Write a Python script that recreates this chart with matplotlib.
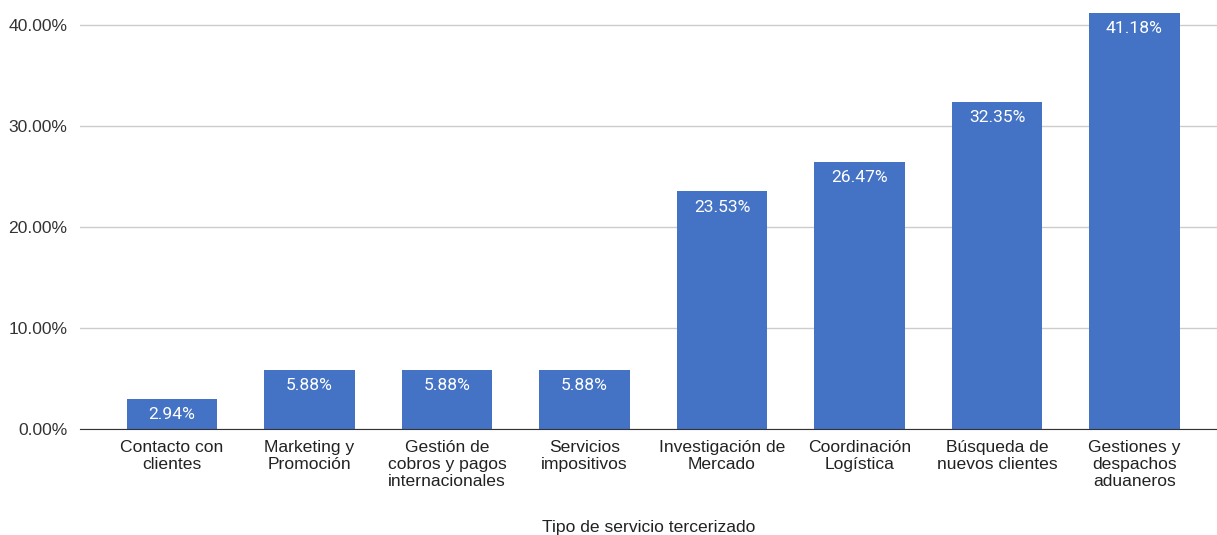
import matplotlib.pyplot as plt
from matplotlib.ticker import FuncFormatter

# share of companies per outsourced service type
categories = [
    "Contacto con\nclientes",
    "Marketing y\nPromoción",
    "Gestión de\ncobros y pagos\ninternacionales",
    "Servicios\nimpositivos",
    "Investigación de\nMercado",
    "Coordinación\nLogística",
    "Búsqueda de\nnuevos clientes",
    "Gestiones y\ndespachos\naduaneros",
]
values = [2.94, 5.88, 5.88, 5.88, 23.53, 26.47, 32.35, 41.18]
yticks = [0, 10, 20, 30, 40]

bar_color = "#4472c4"
fs = 12.6

fig = plt.figure(figsize=(12.17, 5.35), dpi=100)
ax = fig.add_axes([80 / 1217, 106 / 535, 1137 / 1217, 424 / 535])

x = list(range(len(categories)))
bars = ax.bar(x, values, width=0.655, color=bar_color, zorder=3)

for b, v in zip(bars, values):
    ax.text(b.get_x() + b.get_width() / 2, v - 0.8, "%.2f%%" % v,
            ha="center", va="top", color="white", fontsize=fs,
            family="Roboto", zorder=4)

ax.set_xlim(-0.669, 7.6)
ax.set_ylim(0, 42)
ax.set_yticks(yticks)
ax.yaxis.set_major_formatter(FuncFormatter(lambda v, p: "%.2f%%" % v))
ax.set_xticks(x)
ax.set_xticklabels(categories, fontsize=fs, family="Liberation Sans",
                   color="#222222", linespacing=1.17)
ax.tick_params(axis="y", labelsize=fs, length=0, pad=9, colors="#333333")
ax.tick_params(axis="x", length=0, pad=8)
for lab in ax.get_yticklabels():
    lab.set_family("Liberation Sans")

ax.grid(axis="y", color="#cccccc", linewidth=1, zorder=0)
for s in ["top", "right", "left"]:
    ax.spines[s].set_visible(False)
ax.spines["bottom"].set_color("#333333")
ax.spines["bottom"].set_zorder(5)

ax.set_xlabel("Tipo de servicio tercerizado", fontsize=fs,
              family="Liberation Sans", color="#222222", labelpad=22)

fig.savefig("out.png", dpi=100)
